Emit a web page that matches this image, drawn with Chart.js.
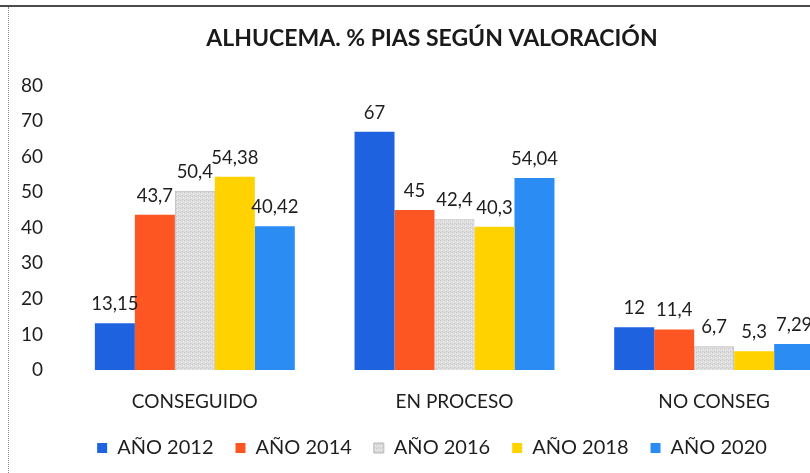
<!DOCTYPE html>
<html>
<head>
<meta charset="utf-8">
<script src="https://cdn.jsdelivr.net/npm/chart.js@4/dist/chart.umd.min.js"></script>
<style>
  html, body { margin: 0; padding: 0; background: #fff; overflow: hidden; }
  body { width: 810px; height: 473px; position: relative; }
  #wrap { position: absolute; left: 0; top: 0; width: 880px; height: 473px; }
  #topline { position: absolute; left: 0; top: 5px; width: 810px; height: 2px; background: #4a4a4a; }
  #leftline { position: absolute; left: 8px; top: 7px; width: 0; height: 466px; border-left: 1px dotted #8a8a8a; }
</style>
</head>
<body>
<div id="wrap"><canvas id="valoracion" width="880" height="473"></canvas></div>
<div id="topline"></div>
<div id="leftline"></div>
<script>
const categories = ['CONSEGUIDO', 'EN PROCESO', 'NO CONSEG'];
const years = ['AÑO 2012', 'AÑO 2014', 'AÑO 2016', 'AÑO 2018', 'AÑO 2020'];
const ano2012 = [13.15, 67, 12];
const ano2014 = [43.7, 45, 11.4];
const ano2016 = [50.4, 42.4, 6.7];
const ano2018 = [54.38, 40.3, 5.3];
const ano2020 = [40.42, 54.04, 7.29];
const yTicks = [0, 10, 20, 30, 40, 50, 60, 70, 80];

const FONT = 'Lato, "Open Sans", sans-serif';

// speckled light gray, like the scanned 2016 bars
function grayPattern() {
	const c = document.createElement('canvas');
	c.width = 4; c.height = 4;
	const g = c.getContext('2d');
	g.fillStyle = '#dcdcdc';
	g.fillRect(0, 0, 4, 4);
	g.fillStyle = '#c8c8c8';
	g.fillRect(0, 0, 1, 1);
	g.fillRect(2, 3, 1, 1);
	g.fillStyle = '#ececec';
	g.fillRect(3, 1, 1, 1);
	g.fillRect(1, 2, 1, 1);
	return g.createPattern(c, 'repeat');
}

const valueLabels = {
	id: 'valueLabels',
	afterDatasetsDraw(chart) {
		const ctx = chart.ctx;
		ctx.save();
		ctx.font = '18.5px ' + FONT;
		ctx.fillStyle = '#1e1e1e';
		ctx.textAlign = 'center';
		ctx.textBaseline = 'middle';
		chart.data.datasets.forEach((ds, i) => {
			chart.getDatasetMeta(i).data.forEach((bar, j) => {
				ctx.fillText(String(ds.data[j]).replace('.', ','), bar.x, bar.y - 19);
			});
		});
		ctx.restore();
	}
};

const data_valoracion = {
	labels: categories,
	datasets: [
		{ label: years[0], data: ano2012, backgroundColor: '#1f62e0', borderWidth: 0 },
		{ label: years[1], data: ano2014, backgroundColor: '#fd5623', borderWidth: 0 },
		{ label: years[2], data: ano2016, backgroundColor: grayPattern(), borderColor: '#b8b8b8', borderWidth: 1 },
		{ label: years[3], data: ano2018, backgroundColor: '#ffd200', borderWidth: 0 },
		{ label: years[4], data: ano2020, backgroundColor: '#2b8cf4', borderWidth: 0 },
	]
};

const config_valoracion = {
	type: 'bar',
	data: data_valoracion,
	plugins: [valueLabels],
	options: {
		responsive: false,
		animation: false,
		categoryPercentage: 0.77,
		barPercentage: 1,
		layout: { padding: { left: 20, right: 36, top: 0, bottom: 5 } },
		plugins: {
			tooltip: { enabled: false },
			title: {
				display: true,
				text: 'ALHUCEMA. % PIAS SEGÚN VALORACIÓN',
				color: '#1a1a1a',
				font: { family: FONT, size: 23, weight: 'bold' },
				padding: { top: 25, bottom: 33 }
			},
			legend: {
				position: 'bottom',
				labels: {
					boxWidth: 10,
					boxHeight: 10,
					padding: 22,
					color: '#1e1e1e',
					font: { family: FONT, size: 20 }
				}
			}
		},
		scales: {
			x: {
				grid: { display: false, drawTicks: false },
				border: { display: false },
				ticks: { color: '#1e1e1e', padding: 20, font: { family: FONT, size: 19 } },
				afterFit: scale => { scale.height = 46; }
			},
			y: {
				min: 0,
				max: 80,
				grid: { display: false, drawTicks: false },
				border: { display: false },
				afterBuildTicks: scale => { scale.ticks = yTicks.map(v => ({ value: v })); },
				afterFit: scale => { scale.width = 45; },
				ticks: { color: '#1e1e1e', padding: 22, font: { family: FONT, size: 19 } }
			}
		}
	}
};

const valoracion = new Chart(
	document.getElementById('valoracion'),
	config_valoracion
);
</script>
</body>
</html>
